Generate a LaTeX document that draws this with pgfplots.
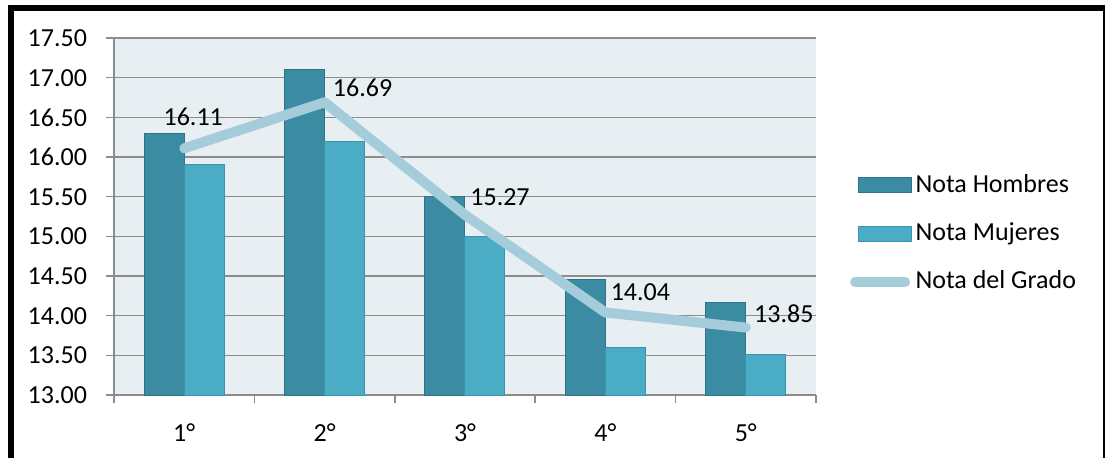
\documentclass[border=0pt]{standalone}
\usepackage{fontspec}
\setmainfont{Carlito}
\usepackage{pgfplots}
\pgfplotsset{compat=1.18}
\usepackage{pgfplotstable}

\definecolor{hombres}{HTML}{3B8BA2}
\definecolor{hombresedge}{HTML}{2E7388}
\definecolor{mujeres}{HTML}{4BACC6}
\definecolor{mujeresedge}{HTML}{3A93AB}
\definecolor{grado}{HTML}{A5CCDA}
\definecolor{plotbg}{HTML}{E8EFF3}
\definecolor{gridc}{HTML}{8C8C8C}

% grades by year: men, women
\pgfplotstableread{
x hombres mujeres
0 16.30 15.90
1 17.10 16.20
2 15.50 15.00
3 14.46 13.60
4 14.17 13.51
}\notas

% overall grade per year
\pgfplotstableread{
x grado
0 16.11
1 16.69
2 15.27
3 14.04
4 13.85
}\grado

\pgfplotsset{
  gradolabel/.style 2 args={forget plot, draw=none, mark=none,
    nodes near coords,
    nodes near coords style={text=black, anchor=west, inner sep=0pt,
      xshift=#1, yshift=#2, font=\fontsize{13}{15.6}\selectfont}},
}

\begin{document}
\begin{tikzpicture}[x=0.5pt,y=0.5pt]
\useasboundingbox (0,0) rectangle (1105,457);
\fontsize{13}{15.6}\selectfont
\begin{axis}[
  at={(57pt,31pt)}, anchor=south west,
  scale only axis, width=351pt, height=178.5pt,
  xmin=-0.5, xmax=4.5, ymin=13, ymax=17.5,
  ytick={13,13.5,...,17.5},
  xtick={0,...,4},
  xticklabels={1°,2°,3°,4°,5°},
  minor xtick={-0.5,0.5,...,4.5},
  xtick style={draw=none},
  minor x tick style={draw=gridc, line width=0.8pt},
  ytick style={draw=gridc, line width=0.8pt},
  tick align=outside,
  major tick length=4pt, minor tick length=4pt,
  axis lines*=left,
  axis line style={draw=gridc, line width=0.8pt},
  ymajorgrids,
  major grid style={draw=gridc, line width=0.8pt},
  axis background/.style={fill=plotbg},
  /pgf/number format/.cd, fixed, fixed zerofill, precision=2, assume math mode=true,
  /pgfplots/.cd,
  tick label style={font=\fontsize{13}{15.6}\selectfont},
  yticklabel style={xshift=-5pt},
  xticklabel style={yshift=-6pt},
  legend style={
    at={(1.048,0.452)}, anchor=west,
    draw=none, fill=none, inner sep=0pt,
    font=\fontsize{13}{15.6}\selectfont,
    row sep=9.2pt,
    nodes={inner sep=2pt},
  },
  legend cell align=left,
]
\addplot[ybar, bar width=20pt, bar shift=-10pt, fill=hombres, draw=hombresedge, line width=0.5pt,
  legend image code/.code={\draw[fill=hombres, draw=hombresedge, line width=0.5pt] (2pt,-3.75pt) rectangle (28.5pt,3.75pt);}]
  table[x=x, y=hombres] {\notas};
\addlegendentry{Nota Hombres}
\addplot[ybar, bar width=20pt, bar shift=10pt, fill=mujeres, draw=mujeresedge, line width=0.5pt,
  legend image code/.code={\draw[fill=mujeres, draw=mujeresedge, line width=0.5pt] (2pt,-3.75pt) rectangle (28.5pt,3.75pt);}]
  table[x=x, y=mujeres] {\notas};
\addlegendentry{Nota Mujeres}
\addplot[grado, line width=5pt, line cap=round, line join=round, sharp plot,
  legend image code/.code={\draw[grado, line width=5pt, line cap=round] (0.5pt,0pt) -- (25.5pt,0pt);}]
  table[x=x, y=grado] {\grado};
\addlegendentry{Nota del Grado}
% value labels of the overall grade
\addplot[gradolabel={-10.5pt}{15.5pt}] coordinates {(0,16.11)};
\addplot[gradolabel={4pt}{7pt}] coordinates {(1,16.69)};
\addplot[gradolabel={2.5pt}{9pt}] coordinates {(2,15.27)};
\addplot[gradolabel={2.5pt}{10pt}] coordinates {(3,14.04)};
\addplot[gradolabel={4pt}{7pt}] coordinates {(4,13.85)};
\end{axis}
% outer frame, open at the bottom, kept inside the page
\begin{scope}
\clip (0,0) rectangle (1105,457);
\draw[line width=3pt] (11,-30) -- (11,449) -- (1106,449) -- (1106,-30);
\end{scope}
\end{tikzpicture}
\end{document}
